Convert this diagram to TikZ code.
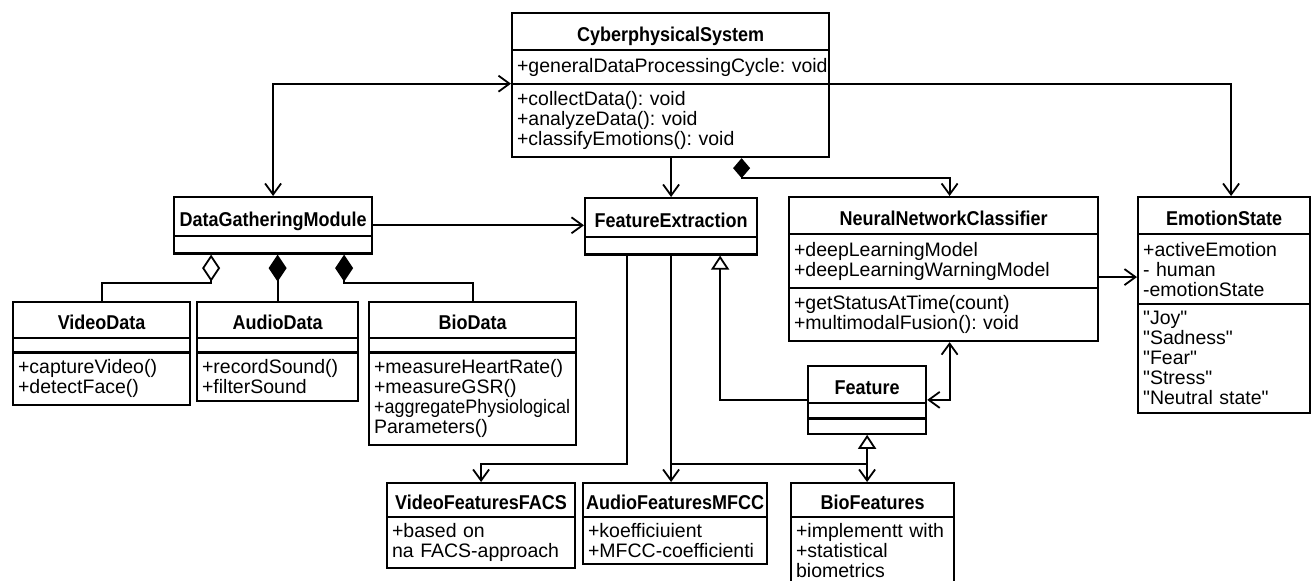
\documentclass[tikz,border=0pt]{standalone}
\usepackage{fontspec}
\setmainfont{Liberation Sans}[Ligatures=TeXOff]
\newfontfamily\titlefont{Liberation Sans}[FakeStretch=0.9]
\usetikzlibrary{shapes.multipart,arrows.meta}

\newcommand{\cname}[1]{\makebox[\linewidth]{\raisebox{-4.5pt}[16pt][6pt]{\titlefont\bfseries\fontsize{20}{20}\selectfont#1}}}

\begin{document}
\begin{tikzpicture}[x=1pt, y=-1pt,
  >={Straight Barb[length=11pt,width=16pt]},
  diam/.tip={Diamond[length=27pt,width=18pt]},
  odiam/.tip={Diamond[open,length=27pt,width=18pt]},
  tri/.tip={Triangle[open,length=14pt,width=18pt]},
  umlclass/.style={rectangle split, rectangle split parts=#1,
    rectangle split ignore empty parts=false, draw, line width=2.2pt,
    anchor=north west, inner xsep=5pt, inner ysep=6.5pt, align=left,
    font=\fontsize{19.5}{20}\selectfont},
  link/.style={line width=1.8pt}]
\fill[white] (0,0) rectangle (1312,581);
\useasboundingbox (0,0) rectangle (1312,581);

\node[umlclass=3, text width=307pt] (cps) at (511,12) {\cname{CyberphysicalSystem}
  \nodepart{two}+generalDataProcessingCycle:~void
  \nodepart{three}+collectData():~void\\+analyzeData():~void\\+classifyEmotions():~void};
\node[umlclass=2, text width=188pt, inner ysep=7.5pt] (dgm) at (173,196) {\cname{DataGatheringModule}\nodepart{two}};
\node[umlclass=2, text width=162pt, inner ysep=7.5pt] (fe) at (584,197) {\cname{FeatureExtraction}\nodepart{two}};
\node[umlclass=3, text width=299pt] (nn) at (788,196) {\cname{NeuralNetworkClassifier}
  \nodepart{two}+deepLearningModel\\+deepLearningWarningModel
  \nodepart{three}+getStatusAtTime(count)\\+multimodalFusion():~void};
\node[umlclass=3, text width=162pt] (es) at (1137,196) {\cname{EmotionState}
  \nodepart{two}+activeEmotion\\-~human\\-emotionState
  \nodepart{three}"Joy"\\"Sadness"\\"Fear"\\"Stress"\\"Neutral~state"};
\node[umlclass=3, text width=108pt] (ft) at (807,365) {\cname{Feature}\nodepart{two}\nodepart{three}};
\node[umlclass=3, text width=167pt, inner ysep=6pt] (vd) at (12,301) {\cname{VideoData}
  \nodepart{two}\nodepart{three}+captureVideo()\\+detectFace()};
\node[umlclass=3, text width=151pt, inner ysep=6pt] (ad) at (196,301) {\cname{AudioData}
  \nodepart{two}\nodepart{three}+recordSound()\\+filterSound};
\node[umlclass=3, text width=197pt, inner ysep=6pt] (bd) at (368,301) {\cname{BioData}
  \nodepart{two}\nodepart{three}+measureHeartRate()\\+measureGSR()\\\scalebox{0.92}[1]{+aggregatePhysiological}\\Parameters()};
\node[umlclass=2, text width=178pt, inner ysep=5pt] (vf) at (386,482) {\cname{VideoFeaturesFACS}
  \nodepart{two}+based~on\\na~FACS-approach};
\node[umlclass=2, text width=174pt, inner ysep=5pt] (af) at (582,482) {\cname{AudioFeaturesMFCC}
  \nodepart{two}+koefficiuient\\+MFCC-coefficienti};
\node[umlclass=2, text width=153pt, inner ysep=5pt] (bf) at (790,482) {\cname{BioFeatures}
  \nodepart{two}+implementt~with\\+statistical\\biometrics};

\draw[link,<->] (dgm.north) |- (cps.two split west);
\draw[link,->] (cps.two split east) -| ([xshift=7pt]es.north);
\draw[link,->] (cps.south -| fe.north) -- (fe.north);
\draw[link,{Diamond[length=20pt,width=17pt]}->] ([xshift=71pt]cps.south) -- ++(0,20) -| ([xshift=6pt]nn.north);
\draw[link,->] (dgm.east) -- (dgm.east -| fe.west);
\draw[link,odiam-] ([xshift=-62pt]dgm.south) -- ++(0,28) -| (vd.north);
\draw[link,diam-] (ad.north |- dgm.south) -- (ad.north);
\draw[link,diam-] ([xshift=71pt]dgm.south) -- ++(0,28) -| (bd.north);
\draw[link,->] ([yshift=-8pt]nn.east) -- ([yshift=-8pt]nn.east -| es.west);
\draw[link,-tri] (ft.west) -| ([xshift=49pt]fe.south);
\draw[link,<->] (ft.east) -| ([xshift=6pt]nn.south);
\draw[link,->] ([xshift=-44pt]fe.south) -- ++(0,208) coordinate (bend) -| (vf.north);
\draw[link,->] (fe.south) -- (fe.south |- af.north);
\draw[link] (bend -| fe.south) -- (bend -| ft.south);
\draw[link,tri->] (ft.south) -- (ft.south |- bf.north);
\end{tikzpicture}
\end{document}
